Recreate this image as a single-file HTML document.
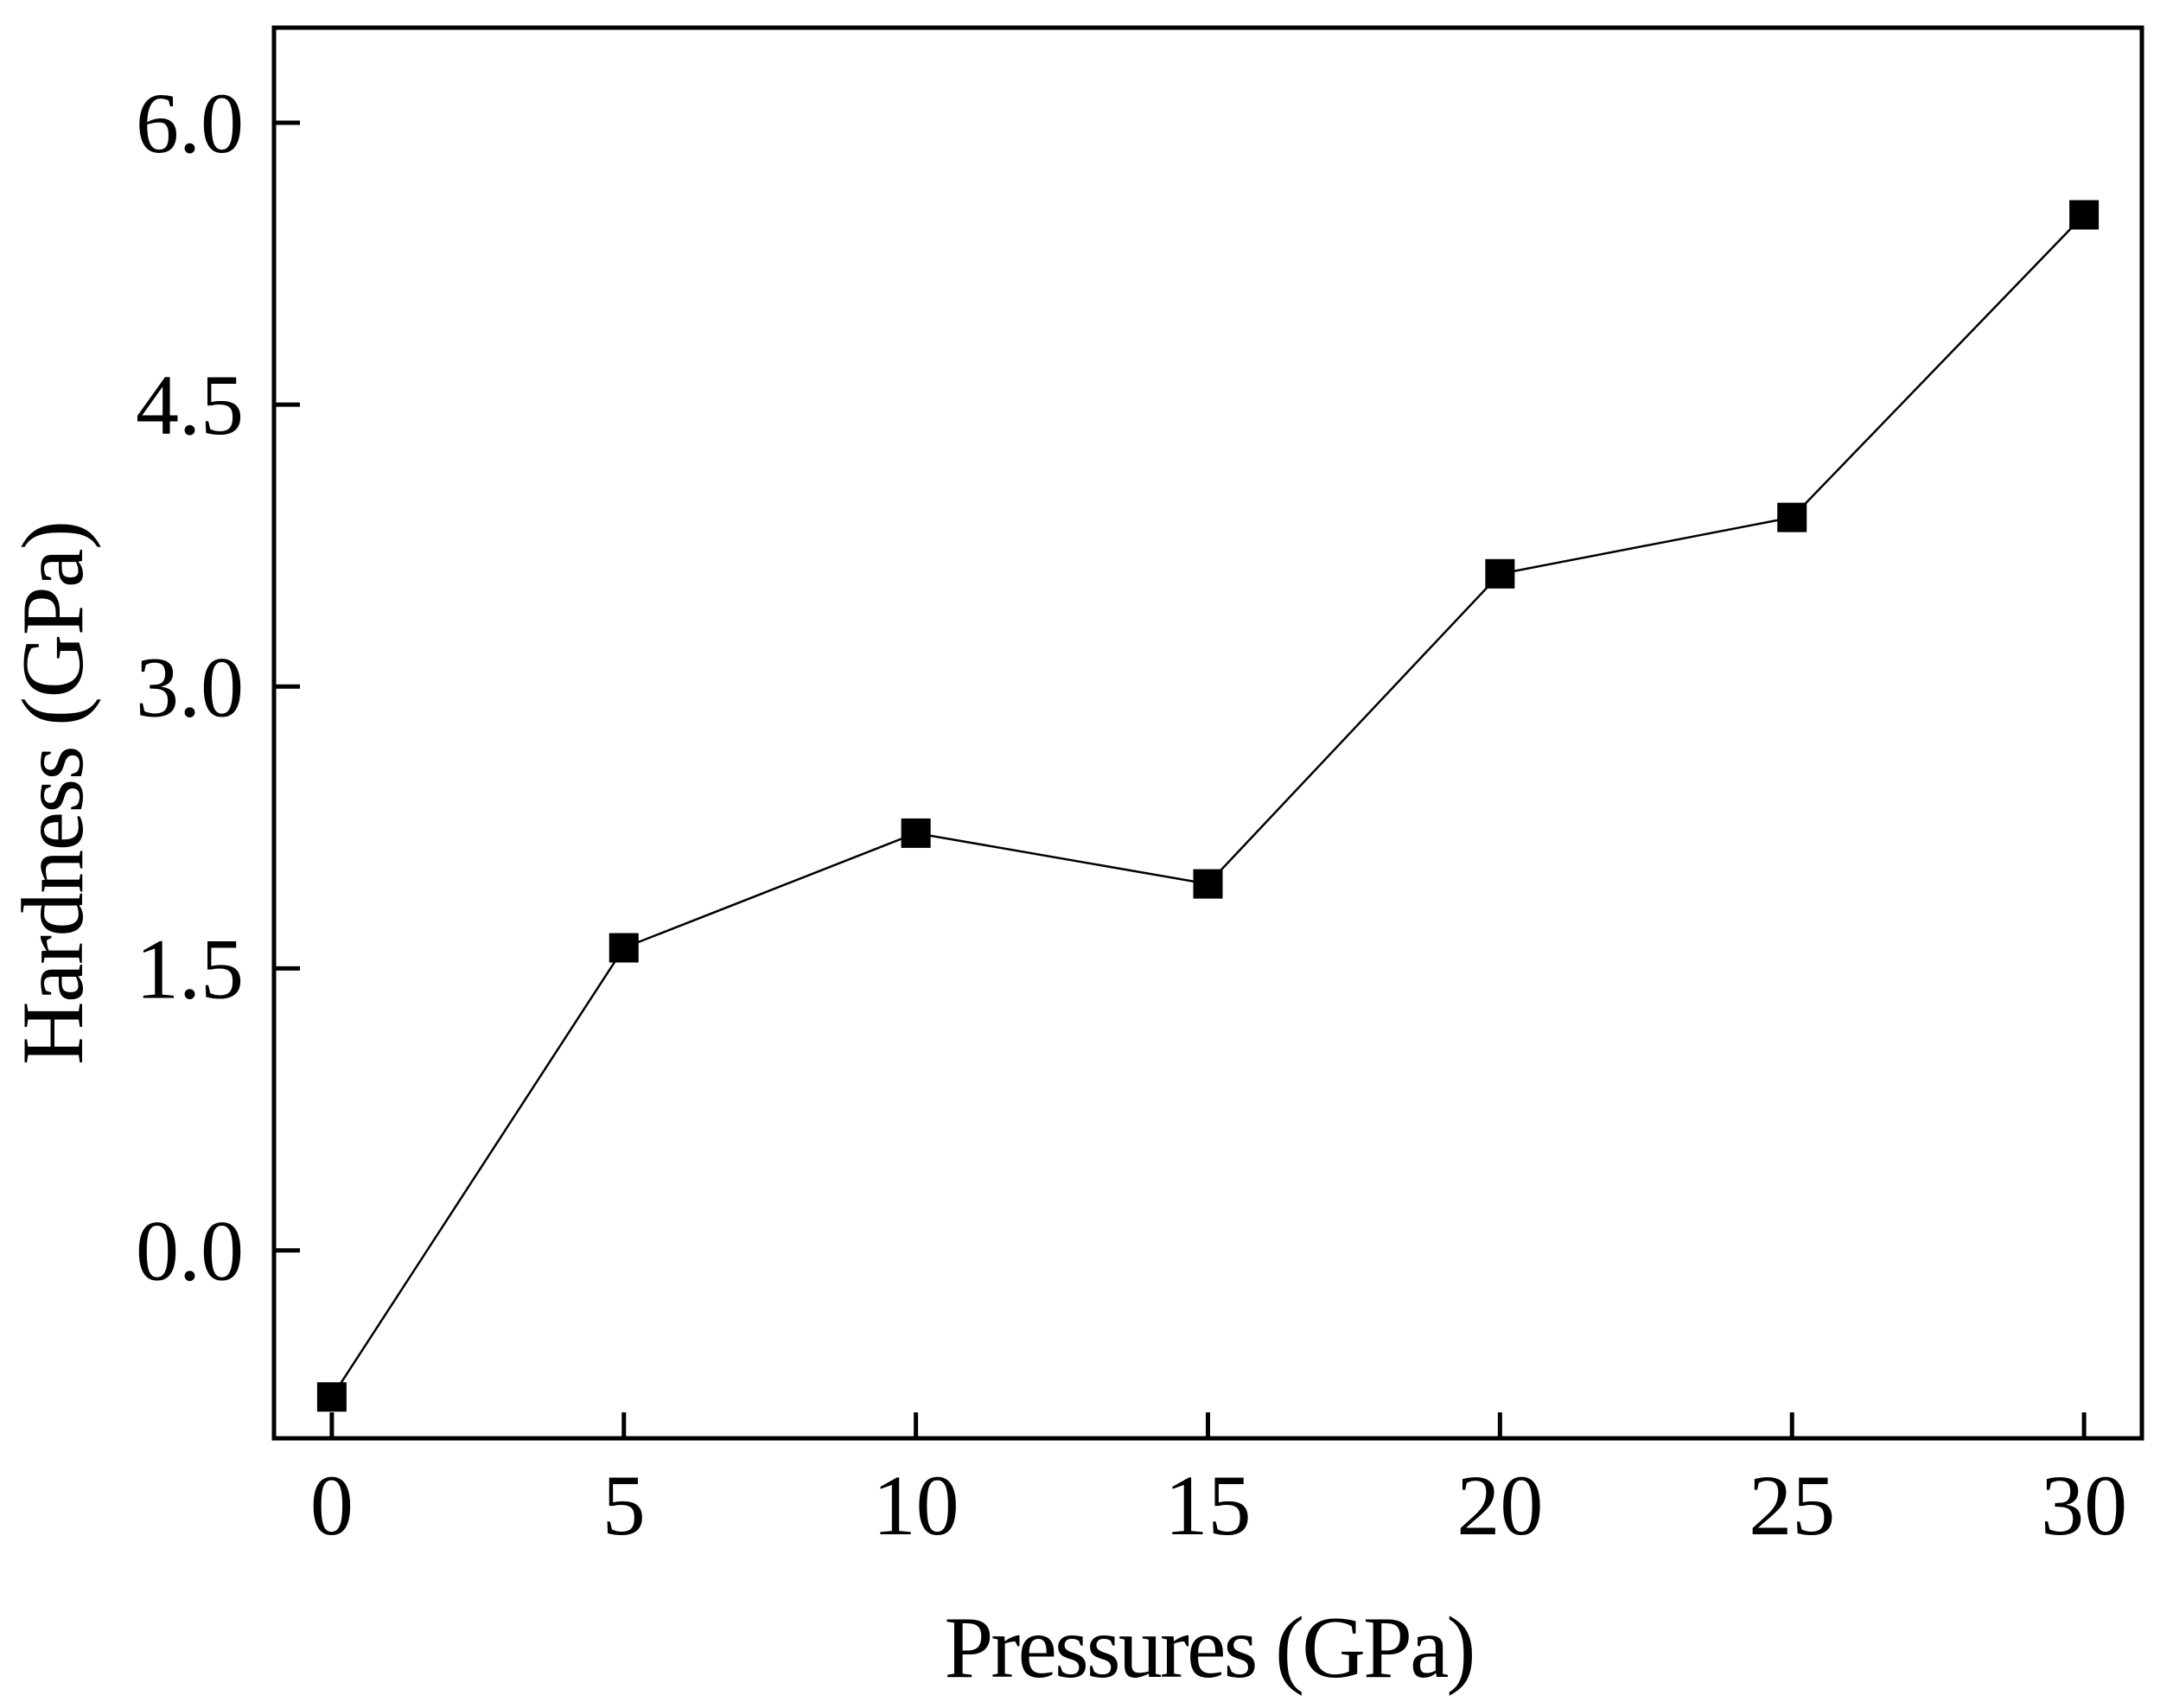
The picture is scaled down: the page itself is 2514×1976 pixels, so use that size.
<!DOCTYPE html>
<html><head><meta charset="utf-8"><style>
html,body{margin:0;padding:0;background:#fff;}
svg{display:block;font-family:"Liberation Serif",serif;}
</style></head><body>
<svg id="chart" width="2514" height="1976" viewBox="0 0 2514 1976" xmlns="http://www.w3.org/2000/svg">
<rect x="317" y="32" width="2161" height="1632" fill="none" stroke="#000" stroke-width="5"/>
<g id="ticks"></g>
<g id="series"></g>
<text x="1400" y="1940" font-size="102" text-anchor="middle" textLength="615">Pressures (GPa)</text>
<text transform="translate(95,917) rotate(-90)" font-size="102" text-anchor="middle" textLength="630">Hardness (GPa)</text>
</svg>
<script>
const pressures = [0, 5, 10, 15, 20, 25, 30];
const hardness = [-0.78, 1.61, 2.22, 1.95, 3.60, 3.90, 5.51];
const xTicks = [0, 5, 10, 15, 20, 25, 30];
const yTicks = [0.0, 1.5, 3.0, 4.5, 6.0];
const yTickLabels = ["0.0", "1.5", "3.0", "4.5", "6.0"];

const NS = "http://www.w3.org/2000/svg";
const L = 317, R = 2478, T = 32, B = 1664;
const xMin = -0.99, xMax = 30.99, yMin = -1.0, yMax = 6.506;
const xs = v => L + (v - xMin) / (xMax - xMin) * (R - L);
const ys = v => B - (v - yMin) / (yMax - yMin) * (B - T);
function mk(tag, attrs, parent) {
  const e = document.createElementNS(NS, tag);
  for (const k in attrs) e.setAttribute(k, attrs[k]);
  parent.appendChild(e);
  return e;
}
const tg = document.getElementById('ticks');
xTicks.forEach(v => {
  const t = mk('line', {x1: xs(v), x2: xs(v), y1: B, y2: B - 30, stroke: '#000', 'stroke-width': 5}, tg);
  
  
  const lb = mk('text', {x: xs(v), y: 1775, 'font-size': 100, 'text-anchor': 'middle'}, tg);
  lb.textContent = String(v);
  
  
});
yTicks.forEach((v, i) => {
  const t = mk('line', {x1: L, x2: L + 30, y1: ys(v), y2: ys(v), stroke: '#000', 'stroke-width': 5}, tg);
  
  
  const lb = mk('text', {x: 282, y: ys(v) + 34, 'font-size': 100, 'text-anchor': 'end'}, tg);
  lb.textContent = yTickLabels[i];
  
  
});
const sg = document.getElementById('series');
const pts = pressures.map((p, i) => xs(p) + ',' + ys(hardness[i])).join(' ');
const line = mk('polyline', {points: pts, fill: 'none', stroke: '#000', 'stroke-width': 2.5}, sg);


pressures.forEach((p, i) => {
  const m = mk('rect', {x: xs(p) - 17, y: ys(hardness[i]) - 17, width: 34, height: 34, fill: '#000'}, sg);
  
  
});
</script>
</body></html>
